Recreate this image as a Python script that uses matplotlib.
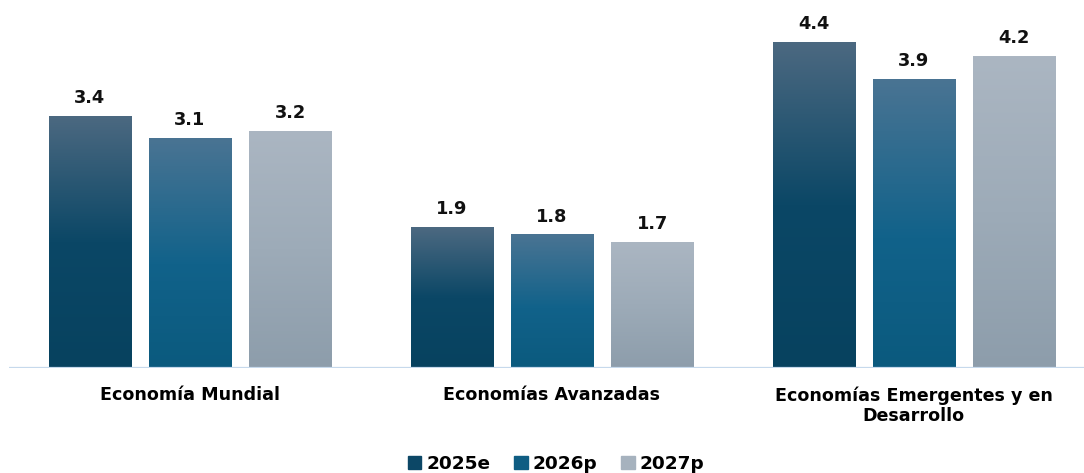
import matplotlib.pyplot as plt
import numpy as np
from matplotlib.colors import LinearSegmentedColormap
from matplotlib.patches import Rectangle

categories = ['Economía Mundial', 'Economías Avanzadas', 'Economías Emergentes y en\nDesarrollo']
series = ['2025e', '2026p', '2027p']
values = {
    '2025e': [3.4, 1.9, 4.4],
    '2026p': [3.1, 1.8, 3.9],
    '2027p': [3.2, 1.7, 4.2],
}
# gradient stops, bottom -> top
grad = {
    '2025e': [(0.0, '#07425f'), (0.5, '#0b4766'), (1.0, '#4c6981')],
    '2026p': [(0.0, '#0b5a7e'), (0.45, '#11628a'), (1.0, '#4a7493')],
    '2027p': [(0.0, '#8d9dab'), (0.5, '#9dabb8'), (1.0, '#abb6c2')],
}
legend_colors = ['#0c4766', '#0f5d83', '#a6b2be']

fig = plt.figure(figsize=(10.84, 4.73), dpi=100)
ax = fig.add_axes([9 / 1084, 1 - 368 / 473, 1 - 9 / 1084, 368 / 473])

x = np.arange(len(categories))
width = 0.227
step = 0.277
ymax = 368 / 74.2

for i, s in enumerate(series):
    cmap = LinearSegmentedColormap.from_list(s, grad[s])
    bars = ax.bar(x + (i - 1) * step, values[s], width, color='none', edgecolor='none')
    for b, v in zip(bars, values[s]):
        x0 = b.get_x()
        img = ax.imshow(np.linspace(0, 1, 256).reshape(-1, 1), cmap=cmap, origin='lower',
                        extent=[x0, x0 + width, 0, v], aspect='auto', zorder=2)
        img.set_clip_path(b)
        ax.text(x0 + width / 2, v + 0.12, f'{v:.1f}', ha='center', va='bottom',
                fontsize=12.8, fontweight='heavy', color='#111111')

ax.set_xlim(-0.5, 2.47)
ax.set_ylim(0, ymax)
ax.axhline(0, color='#c6d9ec', lw=1.6, zorder=3)
for side in ['top', 'right', 'left', 'bottom']:
    ax.spines[side].set_visible(False)
ax.set_yticks([])
ax.set_xticks(x)
ax.set_xticklabels(categories, fontweight='bold', fontsize=12.6, linespacing=1.2)
ax.tick_params(axis='x', length=0, pad=13)

handles = [Rectangle((0, 0), 1, 1, color=c) for c in legend_colors]
fig.legend(handles, series, loc='lower center', bbox_to_anchor=(0.513, -0.035), ncol=3, frameon=False,
           prop={'weight': 'bold', 'size': 13.3}, handlelength=0.75,
           handleheight=0.75, handletextpad=0.25, columnspacing=1.3)

fig.savefig('out.png', dpi=100)
